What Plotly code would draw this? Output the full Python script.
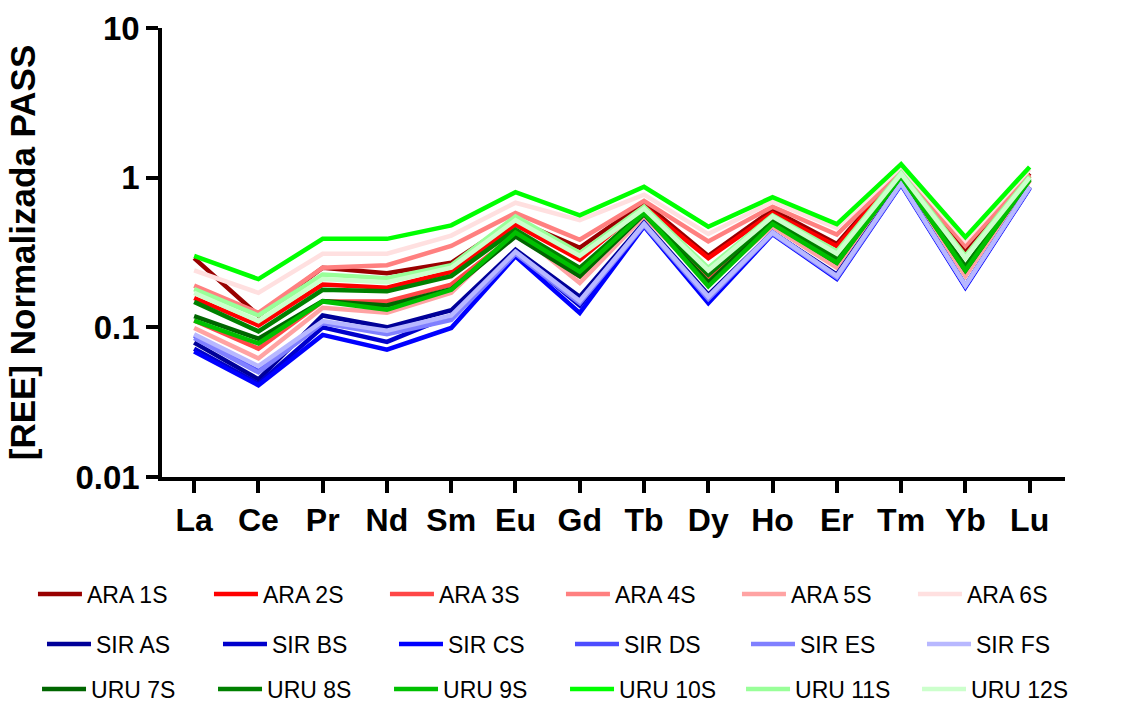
import plotly.graph_objects as go

elements = ["La", "Ce", "Pr", "Nd", "Sm", "Eu", "Gd", "Tb", "Dy", "Ho", "Er", "Tm", "Yb", "Lu"]

ara_names = ["ARA 1S", "ARA 2S", "ARA 3S", "ARA 4S", "ARA 5S", "ARA 6S"]
sir_names = ["SIR AS", "SIR BS", "SIR CS", "SIR DS", "SIR ES", "SIR FS"]
uru_names = ["URU 7S", "URU 8S", "URU 9S", "URU 10S", "URU 11S", "URU 12S"]

ara_1s = [0.29, 0.12, 0.25, 0.23, 0.27, 0.52, 0.34, 0.68, 0.30, 0.61, 0.36, 1.12, 0.32, 1.07]
ara_2s = [0.157, 0.103, 0.193, 0.184, 0.235, 0.485, 0.283, 0.643, 0.29, 0.58, 0.348, 1.10, 0.30, 1.03]
ara_3s = [0.111, 0.072, 0.149, 0.149, 0.193, 0.416, 0.219, 0.566, 0.208, 0.485, 0.262, 1.02, 0.225, 0.97]
ara_4s = [0.19, 0.125, 0.25, 0.26, 0.35, 0.58, 0.385, 0.70, 0.375, 0.64, 0.416, 1.10, 0.35, 1.05]
ara_5s = [0.099, 0.062, 0.135, 0.125, 0.17, 0.44, 0.198, 0.55, 0.20, 0.47, 0.25, 1.00, 0.22, 0.95]
ara_6s = [0.24, 0.17, 0.31, 0.31, 0.41, 0.68, 0.52, 0.77, 0.42, 0.69, 0.46, 1.18, 0.38, 1.14]

sir_as = [0.079, 0.045, 0.12, 0.10, 0.13, 0.33, 0.16, 0.50, 0.165, 0.43, 0.225, 0.93, 0.19, 0.87]
sir_bs = [0.072, 0.042, 0.10, 0.08, 0.12, 0.32, 0.14, 0.49, 0.155, 0.43, 0.22, 0.92, 0.19, 0.86]
sir_cs = [0.069, 0.041, 0.089, 0.071, 0.099, 0.298, 0.125, 0.473, 0.145, 0.42, 0.211, 0.90, 0.185, 0.85]
sir_ds = [0.088, 0.051, 0.107, 0.092, 0.115, 0.32, 0.15, 0.49, 0.16, 0.43, 0.22, 0.92, 0.19, 0.86]
sir_es = [0.085, 0.05, 0.107, 0.09, 0.112, 0.31, 0.145, 0.48, 0.155, 0.425, 0.215, 0.91, 0.19, 0.86]
sir_fs = [0.09, 0.055, 0.11, 0.095, 0.12, 0.32, 0.15, 0.49, 0.16, 0.43, 0.22, 0.92, 0.19, 0.87]

uru_7s = [0.119, 0.084, 0.15, 0.14, 0.18, 0.405, 0.22, 0.57, 0.20, 0.50, 0.27, 1.03, 0.24, 0.97]
uru_8s = [0.148, 0.094, 0.178, 0.174, 0.22, 0.45, 0.249, 0.595, 0.225, 0.524, 0.29, 1.05, 0.255, 0.99]
uru_9s = [0.111, 0.078, 0.149, 0.131, 0.178, 0.43, 0.235, 0.58, 0.188, 0.49, 0.27, 1.02, 0.24, 0.97]
uru_10s = [0.30, 0.21, 0.39, 0.39, 0.48, 0.80, 0.56, 0.87, 0.47, 0.74, 0.49, 1.23, 0.40, 1.18]
uru_11s = [0.18, 0.12, 0.225, 0.213, 0.26, 0.55, 0.314, 0.64, 0.25, 0.56, 0.322, 1.08, 0.30, 1.02]
uru_12s = [0.17, 0.11, 0.21, 0.20, 0.25, 0.52, 0.30, 0.62, 0.24, 0.55, 0.31, 1.06, 0.29, 1.00]

ara_vals = [ara_1s, ara_2s, ara_3s, ara_4s, ara_5s, ara_6s]
sir_vals = [sir_as, sir_bs, sir_cs, sir_ds, sir_es, sir_fs]
uru_vals = [uru_7s, uru_8s, uru_9s, uru_10s, uru_11s, uru_12s]

ara_colors = ["#990000", "#ff0000", "#ff4747", "#ff8080", "#ffa3a3", "#ffe0e0"]
sir_colors = ["#000099", "#0000cc", "#0000ff", "#4d4dff", "#8080ff", "#b8b8ff"]
uru_colors = ["#006600", "#008000", "#00c000", "#00ff00", "#99ff99", "#ccffcc"]

y_ticks = [0.01, 0.1, 1, 10]
y_ticktext = ["0.01", "0.1", "1", "10"]

fig = go.Figure()
groups = [
    (ara_names, ara_vals, ara_colors, "legend"),
    (sir_names, sir_vals, sir_colors, "legend2"),
    (uru_names, uru_vals, uru_colors, "legend3"),
]
for names, vals, colors, leg in groups:
    for n, v, c in zip(names, vals, colors):
        fig.add_trace(go.Scatter(
            x=elements, y=v, name=n, mode="lines",
            line=dict(color=c, width=4.5),
            legend=leg,
        ))

font_fam = "Liberation Sans, Arial, sans-serif"
leg_common = dict(
    orientation="h", xanchor="left", yanchor="middle",
    xref="paper", yref="paper",
    entrywidth=117, entrywidthmode="pixels",
    font=dict(family=font_fam, size=23, color="#000"),
    bgcolor="rgba(0,0,0,0)", itemwidth=44,
    traceorder="normal",
)

fig.update_layout(
    width=1146, height=704,
    margin=dict(l=162, r=81, t=28, b=227, autoexpand=False),
    paper_bgcolor="white", plot_bgcolor="white",
    font=dict(family=font_fam, color="#000"),
    xaxis=dict(
        type="category", categoryorder="array", categoryarray=elements,
        range=[-0.5, 13.55],
        showline=True, linecolor="#000", linewidth=3.5,
        ticks="outside", ticklen=12, tickwidth=3.5, tickcolor="#000",
        showgrid=False, zeroline=False,
        tickfont=dict(family=font_fam, size=32, color="#000", weight="bold"),
    ),
    yaxis=dict(
        type="log", range=[-2, 1],
        tickvals=y_ticks, ticktext=y_ticktext,
        showline=True, linecolor="#000", linewidth=3.5,
        ticks="outside", ticklen=12, tickwidth=3.5, tickcolor="#000",
        showgrid=False, zeroline=False,
        tickfont=dict(family=font_fam, size=33, color="#000", weight="bold"),
        title=dict(text="[REE] Normalizada PASS", standoff=30,
                   font=dict(family=font_fam, size=35, color="#000", weight="bold")),
    ),
    legend=dict(x=-0.1429, y=-0.2606, **leg_common),
    legend2=dict(x=-0.1329, y=-0.3719, **leg_common),
    legend3=dict(x=-0.1384, y=-0.4722, **leg_common),
    showlegend=True,
)

fig.write_html("out.html")
